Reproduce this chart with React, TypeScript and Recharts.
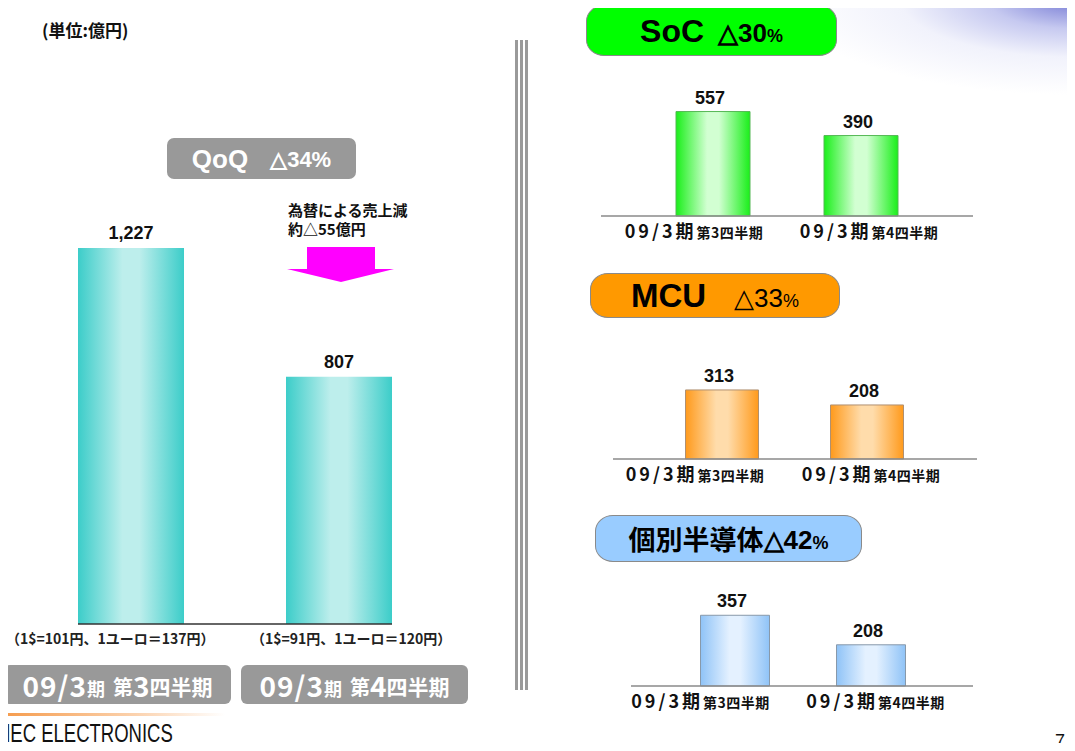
import React from "react";
import { BarChart, Bar, XAxis, YAxis, LabelList } from "recharts";

// 売上高 (億円)
const MAIN_QUARTERS = ["09/3期 第3四半期", "09/3期 第4四半期"];
const MAIN_SALES = [1227, 807];
const FX_NOTES = ["（1$=101円、1ユーロ＝137円）", "（1$=91円、1ユーロ＝120円）"];

const SEG_QUARTERS = ["09/3期第3四半期", "09/3期第4四半期"];
const SOC_SALES = [557, 390];
const MCU_SALES = [313, 208];
const DISCRETE_SALES = [357, 208];

const JP = "'Noto Sans CJK JP', 'Liberation Sans', sans-serif";
const LAT = "'Liberation Sans', Arial, sans-serif";

function Grad({ id, edge, mid }: { id: string; edge: string; mid: string }) {
  return (
    <defs>
      <linearGradient id={id} x1="0" y1="0" x2="1" y2="0">
        <stop offset="0%" stopColor={edge} />
        <stop offset="42%" stopColor={mid} />
        <stop offset="58%" stopColor={mid} />
        <stop offset="100%" stopColor={edge} />
      </linearGradient>
    </defs>
  );
}

function MainChart() {
  const data = MAIN_QUARTERS.map((q, i) => ({ q, value: MAIN_SALES[i] }));
  return (
    <div style={{ position: "absolute", left: 0, top: 0 }}>
      <BarChart
        width={480}
        height={640}
        data={data}
        margin={{ top: 195, right: 88, bottom: 15, left: 78 }}
      >
        <Grad id="mainGrad" edge="#3ccdc9" mid="#bdeeec" />
        <XAxis
          dataKey="q"
          height={1}
          tick={false}
          tickLine={false}
          padding={{ left: -51, right: -51 }}
          axisLine={{ stroke: "#333", strokeWidth: 1.5 }}
        />
        <YAxis hide domain={[0, 1400]} />
        <Bar dataKey="value" barSize={106} fill="url(#mainGrad)" isAnimationActive={false}>
          <LabelList
            dataKey="value"
            position="top"
            offset={9}
            formatter={(v: any) => Number(v).toLocaleString("en-US")}
            fill="#111"
            fontSize={18}
            fontWeight={700}
            fontFamily={LAT}
          />
        </Bar>
      </BarChart>
    </div>
  );
}

function SegTick(props: any) {
  const { x, y, payload, index, shift } = props;
  const [head, tail] = String(payload.value).split("第");
  return (
    <text
      x={x + (shift[index] || 0)}
      y={y + 14}
      textAnchor="middle"
      fontFamily={JP}
      fontWeight={700}
      fill="#111"
    >
      <tspan fontSize={18} letterSpacing={3}>{head}</tspan>
      <tspan fontSize={14} letterSpacing={0.5}>第{tail}</tspan>
    </text>
  );
}

function SegmentPanel(p: {
  id: string;
  values: number[];
  axisMin: number;
  axisMax: number;
  left: number;
  top: number;
  height: number;
  margin: { top: number; right: number; bottom: number; left: number };
  padding: { left: number; right: number };
  barSize: number;
  edge: string;
  mid: string;
  stroke: string;
  tickShift: number[];
}) {
  const data = SEG_QUARTERS.map((q, i) => ({ q, value: p.values[i] }));
  return (
    <div style={{ position: "absolute", left: p.left, top: p.top }}>
      <BarChart width={420} height={p.height} data={data} margin={p.margin}>
        <Grad id={p.id} edge={p.edge} mid={p.mid} />
        <XAxis
          dataKey="q"
          height={30}
          interval={0}
          tickLine={false}
          padding={p.padding}
          axisLine={{ stroke: "#8a8a8a", strokeWidth: 1.5 }}
          tick={(tp: any) => <SegTick {...tp} shift={p.tickShift} />}
        />
        <YAxis hide domain={[p.axisMin, p.axisMax]} />
        <Bar
          dataKey={(d: any) => [p.axisMin, d.value]}
          barSize={p.barSize}
          fill={`url(#${p.id})`}
          stroke={p.stroke}
          strokeWidth={1}
          isAnimationActive={false}
        >
          <LabelList
            dataKey="value"
            position="top"
            offset={8}
            dx={-3}
            fill="#111"
            fontSize={18}
            fontWeight={700}
            fontFamily={LAT}
          />
        </Bar>
      </BarChart>
    </div>
  );
}

function QuarterBox({ label, left }: { label: string; left: number }) {
  const m = label.match(/^(\d+\/\d+)(期)\s*(第)(\d)(四半期)$/);
  const parts = m ? m.slice(1) : [label, "", "", "", ""];
  return (
    <div
      style={{
        position: "absolute",
        left,
        top: 665,
        width: 227,
        height: 39,
        background: "#999",
        borderRadius: 6,
        color: "#fff",
        fontFamily: JP,
        fontWeight: 700,
        display: "flex",
        alignItems: "center",
        justifyContent: "center",
        whiteSpace: "nowrap",
        lineHeight: 1,
      }}
    >
      <span style={{ fontSize: 28, letterSpacing: 1 }}>{parts[0]}</span>
      <span style={{ fontSize: 18, marginRight: 8, marginTop: 6 }}>{parts[1]}</span>
      <span style={{ fontSize: 20, marginTop: 4 }}>{parts[2]}</span>
      <span style={{ fontSize: 28 }}>{parts[3]}</span>
      <span style={{ fontSize: 21, marginTop: 4 }}>{parts[4]}</span>
    </div>
  );
}

function Pill(p: { left: number; top: number; width: number; height: number; bg: string; children: React.ReactNode }) {
  return (
    <div
      style={{
        position: "absolute",
        left: p.left,
        top: p.top,
        width: p.width,
        height: p.height,
        background: p.bg,
        border: "1px solid #8a8a8a",
        borderRadius: "18px / 16px",
        boxSizing: "border-box",
        display: "flex",
        alignItems: "center",
        justifyContent: "center",
        whiteSpace: "nowrap",
        color: "#000",
        lineHeight: 1,
      }}
    >
      {p.children}
    </div>
  );
}

export default function App() {
  return (
    <div
      style={{
        position: "relative",
        width: 1075,
        height: 751,
        margin: -8,
        overflow: "hidden",
        background: "#fff",
        fontFamily: JP,
      }}
    >
      {/* top-right blue wash */}
      <div
        style={{
          position: "absolute",
          left: 775,
          top: 0,
          width: 300,
          height: 110,
          background:
            "radial-gradient(ellipse 290px 95px at 100% 0%, rgba(110,115,210,0.95) 0%, rgba(160,165,230,0.6) 30%, rgba(215,218,245,0.35) 60%, rgba(255,255,255,0) 100%)",
        }}
      />

      <MainChart />

      <div style={{ position: "absolute", left: 42, top: 17, fontSize: 17, fontWeight: 700, color: "#111" }}>
        (単位:億円)
      </div>

      <div
        style={{
          position: "absolute",
          left: 167,
          top: 138,
          width: 189,
          height: 41,
          background: "#999",
          borderRadius: 7,
          color: "#fff",
          fontFamily: LAT,
          fontWeight: 700,
          display: "flex",
          alignItems: "center",
          justifyContent: "center",
          lineHeight: 1,
        }}
      >
        <span style={{ fontSize: 26 }}>QoQ</span>
        <span style={{ fontSize: 22, marginLeft: 22, marginTop: 3 }}>△34%</span>
      </div>

      <div
        style={{
          position: "absolute",
          left: 288,
          top: 200,
          fontSize: 15,
          fontWeight: 700,
          lineHeight: "19px",
          color: "#111",
          whiteSpace: "nowrap",
        }}
      >
        為替による売上減
        <br />
        約△55億円
      </div>

      <svg style={{ position: "absolute", left: 0, top: 0 }} width={480} height={300}>
        <polygon
          points="307,247 375,247 375,269 394,269 341,282 287,269 307,269"
          fill="#ff00ff"
        />
      </svg>

      {FX_NOTES.map((t, i) => (
        <div
          key={t}
          style={{
            position: "absolute",
            left: i === 0 ? 6 : 251,
            top: 628,
            fontSize: 14,
            fontWeight: 700,
            color: "#222",
            whiteSpace: "nowrap",
          }}
        >
          {t}
        </div>
      ))}

      {MAIN_QUARTERS.map((q, i) => (
        <QuarterBox key={q} label={q} left={i === 0 ? 4 : 241} />
      ))}

      {/* divider */}
      <div
        style={{
          position: "absolute",
          left: 515,
          top: 40,
          width: 15,
          height: 650,
          background: "repeating-linear-gradient(to right, #9a9a9a 0 3px, #fff 3px 5px)",
        }}
      />

      {/* footer */}
      <div
        style={{
          position: "absolute",
          left: 0,
          top: 713,
          width: 225,
          height: 3,
          background: "linear-gradient(to right, #f59a4a 0%, #fbd2ae 60%, rgba(255,255,255,0) 100%)",
        }}
      />
      <div
        style={{
          position: "absolute",
          left: -3,
          top: 721,
          fontFamily: LAT,
          fontSize: 25,
          color: "#111",
          transform: "scaleX(0.74)",
          transformOrigin: "top left",
          whiteSpace: "nowrap",
          lineHeight: 1,
        }}
      >
        NEC ELECTRONICS
      </div>
      <div style={{ position: "absolute", left: 1055, top: 731, fontFamily: LAT, fontSize: 18, color: "#111" }}>7</div>

      {/* SoC */}
      <Pill left={586} top={5} width={251} height={51} bg="#00ff00">
        <span style={{ fontFamily: LAT, fontWeight: 700, fontSize: 32 }}>SoC</span>
        <span style={{ fontFamily: LAT, fontWeight: 700, fontSize: 26, marginLeft: 14, marginTop: 4 }}>△30</span>
        <span style={{ fontFamily: LAT, fontWeight: 700, fontSize: 18, marginTop: 10 }}>%</span>
      </Pill>
      <SegmentPanel
        id="socGrad"
        values={SOC_SALES}
        axisMin={-170}
        axisMax={780}
        left={580}
        top={60}
        height={190}
        margin={{ top: 19.5, right: 27, bottom: 4, left: 21 }}
        padding={{ left: 38, right: 38 }}
        barSize={74}
        edge="#1aef1a"
        mid="#d2ffd2"
        stroke="#55b855"
        tickShift={[-19, 8]}
      />

      {/* MCU */}
      <Pill left={590} top={273} width={250} height={45} bg="#ff9900">
        <span style={{ fontFamily: LAT, fontWeight: 700, fontSize: 33 }}>MCU</span>
        <span style={{ fontFamily: LAT, fontWeight: 400, fontSize: 26, marginLeft: 28, marginTop: 4 }}>△33</span>
        <span style={{ fontFamily: LAT, fontWeight: 400, fontSize: 18, marginTop: 10 }}>%</span>
      </Pill>
      <SegmentPanel
        id="mcuGrad"
        values={MCU_SALES}
        axisMin={-170}
        axisMax={470}
        left={580}
        top={340}
        height={150}
        margin={{ top: 27.5, right: 23, bottom: 1, left: 33 }}
        padding={{ left: 36.5, right: 37.5 }}
        barSize={73}
        edge="#ff9a1c"
        mid="#ffdcab"
        stroke="#b09070"
        tickShift={[-27, 4]}
      />

      {/* 個別半導体 */}
      <Pill left={595} top={515} width={267} height={47} bg="#99ccff">
        <span style={{ fontFamily: JP, fontWeight: 700, fontSize: 27 }}>個別半導体</span>
        <span style={{ fontFamily: LAT, fontWeight: 700, fontSize: 26, marginTop: 2 }}>△42</span>
        <span style={{ fontFamily: LAT, fontWeight: 700, fontSize: 18, marginTop: 8 }}>%</span>
      </Pill>
      <SegmentPanel
        id="discGrad"
        values={DISCRETE_SALES}
        axisMin={0}
        axisMax={420}
        left={580}
        top={570}
        height={150}
        margin={{ top: 32.8, right: 27, bottom: 4, left: 51 }}
        padding={{ left: 35.5, right: 34.5 }}
        barSize={69}
        edge="#8fc3f7"
        mid="#e4f1ff"
        stroke="#8899aa"
        tickShift={[-34, 5]}
      />
    </div>
  );
}
